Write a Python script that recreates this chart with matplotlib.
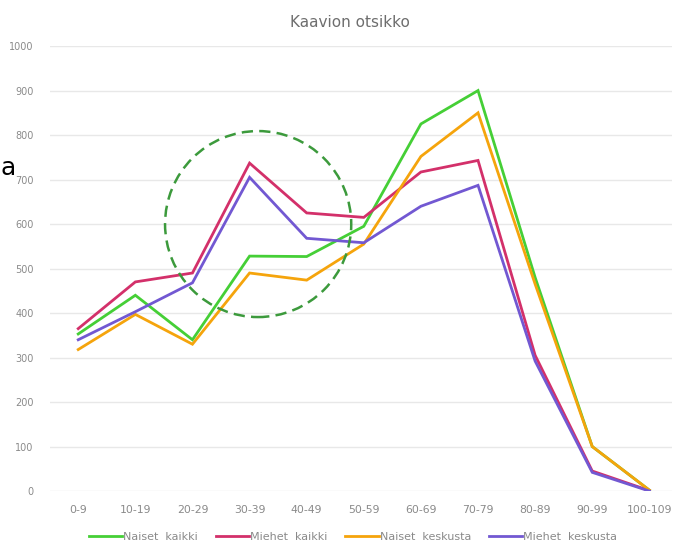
import matplotlib
matplotlib.use("Agg")
import matplotlib.pyplot as plt
from matplotlib.patches import Ellipse

# data
ikaryhmat = ["0-9", "10-19", "20-29", "30-39", "40-49", "50-59",
             "60-69", "70-79", "80-89", "90-99", "100-109"]
naiset_kaikki = [353, 440, 340, 528, 527, 595, 825, 900, 480, 100, 2]
miehet_kaikki = [365, 470, 490, 737, 625, 615, 717, 743, 305, 45, 1]
naiset_keskusta = [318, 397, 330, 490, 474, 555, 752, 850, 465, 100, 2]
miehet_keskusta = [340, 403, 468, 705, 568, 558, 640, 687, 292, 42, 0]

sarjat = [
    ("Naiset  kaikki", naiset_kaikki, "#45cf36"),
    ("Miehet  kaikki", miehet_kaikki, "#d3306a"),
    ("Naiset  keskusta", naiset_keskusta, "#f5a40c"),
    ("Miehet  keskusta", miehet_keskusta, "#7258d2"),
]

fig = plt.figure(figsize=(6.79, 5.42), dpi=100)
ax = fig.add_axes([0.074, 0.094, 0.916, 0.821])

x = list(range(len(ikaryhmat)))
for nimi, arvot, vari in sarjat:
    ax.plot(x, arvot, color=vari, lw=2.0, label=nimi, solid_joinstyle="miter")

# dashed highlight circle
ax.add_patch(Ellipse((3.15, 600), 3.26, 418, fill=False, ls=(0, (4.5, 2.5)),
                     lw=1.8, color="#3c9a3c", zorder=5))

ax.set_xlim(-0.49, 10.4)
ax.set_ylim(0, 1000)
ax.set_yticks(range(0, 1001, 100))
ax.set_xticks(x)
ax.set_xticklabels(ikaryhmat)
ax.tick_params(axis="both", length=0, labelsize=7, labelcolor="#8a8a8a")
ax.tick_params(axis="x", labelsize=7.8, pad=10)
ax.tick_params(axis="y", pad=12)
ax.grid(axis="y", color="#e8e8e8", lw=1)
ax.set_axisbelow(True)
for s in ax.spines.values():
    s.set_visible(False)

fig.text(0.515, 0.958, "Kaavion otsikko", ha="center", va="center",
         fontsize=11, color="#6e6e6e")
fig.text(0.0, 0.69, "a", ha="left", va="center", fontsize=18, color="black")

fig.legend(loc="center", bbox_to_anchor=(0.52, 0.01), ncol=4, frameon=False,
           fontsize=8, labelcolor="#8a8a8a", handlelength=3.0, handletextpad=0.1,
           columnspacing=1.6)

fig.savefig("out.png", dpi=100)
